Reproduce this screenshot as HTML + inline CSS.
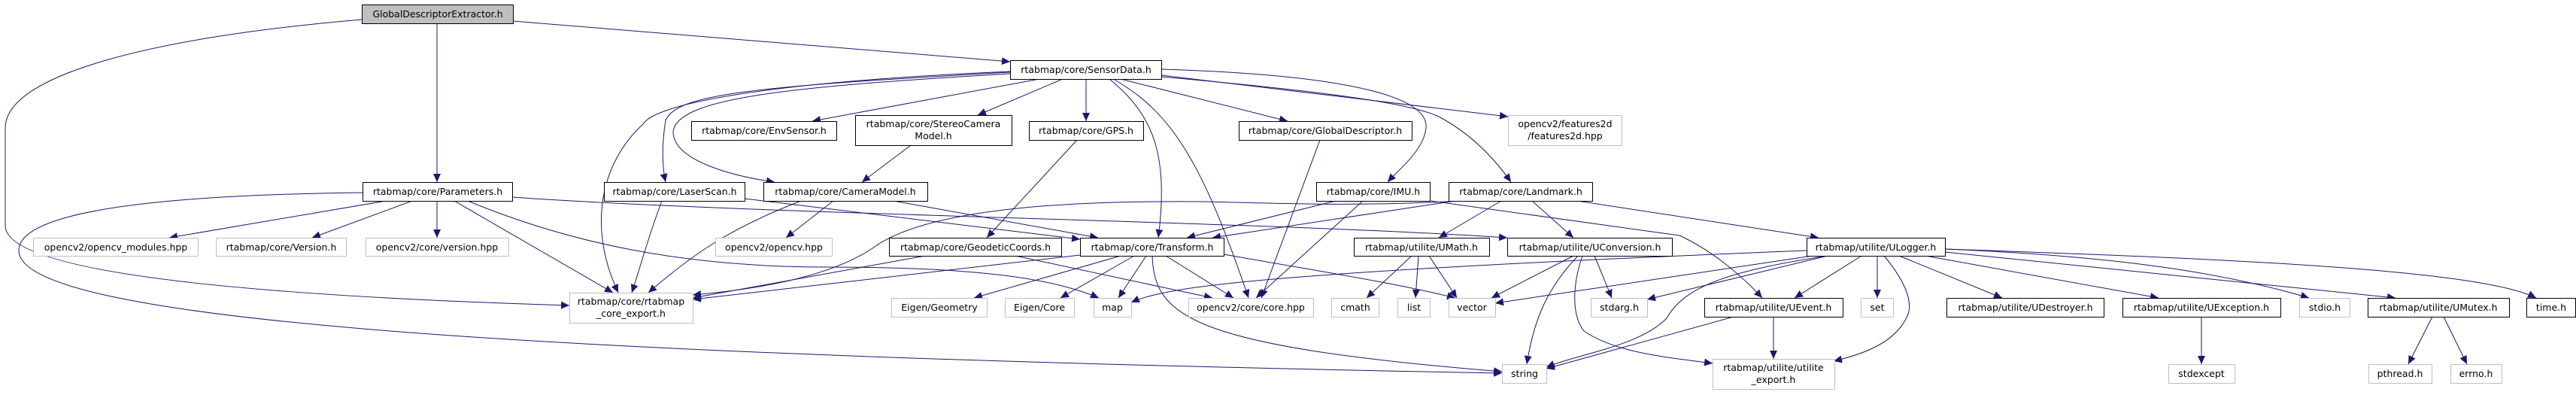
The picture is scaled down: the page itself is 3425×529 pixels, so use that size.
<!DOCTYPE html>
<html><head><meta charset="utf-8"><style>
html,body{margin:0;padding:0;background:#fff;}
svg{display:block}
text{font-family:"DejaVu Sans","Liberation Sans",sans-serif;font-size:12.5px;fill:#000;text-anchor:middle}
.b{fill:#fff;stroke:#000;stroke-width:1}
.g{fill:#fff;stroke:#bfbfbf;stroke-width:1}
.r{fill:#bfbfbf;stroke:#000;stroke-width:1}
path{fill:none;stroke:#191970;stroke-width:1;marker-end:url(#a)}
</style></head><body>
<svg width="3425" height="529" viewBox="0 0 3425 529" xmlns="http://www.w3.org/2000/svg">
<defs><marker id="a" markerUnits="userSpaceOnUse" markerWidth="12" markerHeight="10" refX="11" refY="5" orient="auto"><polygon points="0,0 11,5 0,10" fill="#191970"/></marker></defs>
<!-- edges -->
<path d="M581,31 L581,242"/>
<path d="M682,28 L1343,82"/>
<path d="M481,26 C200,50 7,100 7,170 L7,300 C7,360 300,392 757,406"/>
<path d="M482,256 C150,260 25,290 25,333 C25,420 600,470 1997,496"/>
<path d="M513,267 L225,316"/>
<path d="M548,267 L415,316"/>
<path d="M581,267 L581,316"/>
<path d="M604,267 L815,389"/>
<path d="M622,267 C750,320 900,355 1100,355 C1300,355 1400,370 1461,396"/>
<path d="M681,262 C1000,285 1700,295 2004,316"/>
<path d="M880,267 C860,320 850,360 840,389"/>
<path d="M990,264 L1436,318"/>
<path d="M1343,96 C1000,115 900,125 885,160 C880,190 880,220 885,242"/>
<path d="M1343,98 C1050,115 900,130 895,175 C895,215 980,235 1030,242"/>
<path d="M1343,95 C1000,110 870,140 855,165 C800,215 780,300 822,389"/>
<path d="M1382,105 L1080,161"/>
<path d="M1413,105 L1300,153"/>
<path d="M1444,105 L1444,161"/>
<path d="M1490,105 L1712,161"/>
<path d="M1475,105 C1530,150 1555,200 1540,316"/>
<path d="M1480,105 C1560,150 1600,220 1660,396"/>
<path d="M1544,100 L2005,155"/>
<path d="M1544,92 C1800,100 1900,130 1896,170 C1893,200 1860,225 1845,242"/>
<path d="M1544,102 C1800,125 1880,140 1913,155 C1960,180 1990,215 2009,242"/>
<path d="M1211,193 L1146,242"/>
<path d="M1432,186 L1312,316"/>
<path d="M1755,186 L1677,396"/>
<path d="M1065,267 C980,300 930,330 862,389"/>
<path d="M1108,267 L1045,316"/>
<path d="M1188,267 L1460,316"/>
<path d="M1230,340 L921,396"/>
<path d="M1350,340 L1612,396"/>
<path d="M1436,339 L921,398"/>
<path d="M1490,340 L1295,396"/>
<path d="M1508,340 L1410,396"/>
<path d="M1524,340 L1487,396"/>
<path d="M1550,340 L1640,396"/>
<path d="M1532,340 C1535,420 1580,460 1997,494"/>
<path d="M1627,338 C1750,360 1850,375 1935,396"/>
<path d="M1776,267 L1578,316"/>
<path d="M1935,267 L1612,316"/>
<path d="M1942,267 C1800,275 1700,270 1600,268 C1300,265 1200,300 1160,330 C1100,370 1000,385 921,392"/>
<path d="M1812,267 L1670,396"/>
<path d="M1902,267 L2233,313 C2270,330 2310,360 2343,396"/>
<path d="M1996,267 L1913,316"/>
<path d="M2037,267 L2092,316"/>
<path d="M2097,267 L2418,316"/>
<path d="M1877,340 L1817,396"/>
<path d="M1886,340 L1882,396"/>
<path d="M1900,340 L1937,396"/>
<path d="M2092,340 L1983,396"/>
<path d="M2098,340 C2060,380 2040,420 2030,484"/>
<path d="M2104,340 C2090,380 2090,420 2106,440 C2150,470 2220,475 2277,483"/>
<path d="M2120,340 L2143,396"/>
<path d="M2402,333 C2100,345 1800,360 1650,375 C1580,382 1530,390 1504,402"/>
<path d="M2410,340 L1988,403"/>
<path d="M2430,340 L2190,398"/>
<path d="M2430,340 C2300,360 2240,380 2216,423 C2180,460 2100,470 2056,488"/>
<path d="M2475,340 L2386,396"/>
<path d="M2496,340 L2496,396"/>
<path d="M2505,340 C2530,370 2545,400 2536,420 C2520,455 2480,470 2438,480"/>
<path d="M2525,340 L2662,396"/>
<path d="M2560,340 L2870,396"/>
<path d="M2586,331 C2800,340 2950,360 3070,396"/>
<path d="M2586,335 L3185,396"/>
<path d="M2586,331 C3000,345 3300,360 3372,396"/>
<path d="M2305,421 L2056,490"/>
<path d="M2358,421 L2358,477"/>
<path d="M2927,421 L2927,484"/>
<path d="M3234,421 L3202,484"/>
<path d="M3249,421 L3280,484"/>
<!-- nodes -->
<rect class="r" x="481.5" y="6.5" width="201" height="25"/><text x="582" y="23">GlobalDescriptorExtractor.h</text>
<rect class="b" x="482.5" y="242.5" width="199" height="25"/><text x="582" y="259">rtabmap/core/Parameters.h</text>
<rect class="g" x="44.5" y="316.5" width="219" height="24"/><text x="154" y="333">opencv2/opencv_modules.hpp</text>
<rect class="g" x="287.5" y="316.5" width="173" height="24"/><text x="374" y="333">rtabmap/core/Version.h</text>
<rect class="g" x="486.5" y="316.5" width="190" height="24"/><text x="581" y="333">opencv2/core/version.hpp</text>
<rect class="g" x="757.5" y="389.5" width="164" height="40"/><text x="839" y="405">rtabmap/core/rtabmap</text><text x="839" y="421">_core_export.h</text>
<rect class="b" x="803.5" y="242.5" width="187" height="25"/><text x="897" y="259">rtabmap/core/LaserScan.h</text>
<rect class="b" x="1343.5" y="80.5" width="201" height="25"/><text x="1444" y="97">rtabmap/core/SensorData.h</text>
<rect class="b" x="919.5" y="161.5" width="193" height="25"/><text x="1016" y="178">rtabmap/core/EnvSensor.h</text>
<rect class="b" x="1137.5" y="153.5" width="208" height="40"/><text x="1241" y="169">rtabmap/core/StereoCamera</text><text x="1241" y="185">Model.h</text>
<rect class="b" x="1368.5" y="161.5" width="152" height="25"/><text x="1444" y="178">rtabmap/core/GPS.h</text>
<rect class="b" x="1647.5" y="161.5" width="230" height="25"/><text x="1762" y="178">rtabmap/core/GlobalDescriptor.h</text>
<rect class="b" x="1015.5" y="242.5" width="218" height="25"/><text x="1124" y="259">rtabmap/core/CameraModel.h</text>
<rect class="g" x="951.5" y="316.5" width="155" height="24"/><text x="1029" y="333">opencv2/opencv.hpp</text>
<rect class="b" x="1182.5" y="316.5" width="229" height="24"/><text x="1297" y="333">rtabmap/core/GeodeticCoords.h</text>
<rect class="b" x="1436.5" y="316.5" width="191" height="24"/><text x="1532" y="333">rtabmap/core/Transform.h</text>
<rect class="g" x="1185.5" y="396.5" width="127" height="25"/><text x="1249" y="413">Eigen/Geometry</text>
<rect class="g" x="1336.5" y="396.5" width="92" height="25"/><text x="1382" y="413">Eigen/Core</text>
<rect class="g" x="1454.5" y="396.5" width="50" height="25"/><text x="1479" y="413">map</text>
<rect class="g" x="1580.5" y="396.5" width="166" height="25"/><text x="1663" y="413">opencv2/core/core.hpp</text>
<rect class="g" x="2005.5" y="153.5" width="151" height="40"/><text x="2081" y="169">opencv2/features2d</text><text x="2081" y="185">/features2d.hpp</text>
<rect class="b" x="1750.5" y="242.5" width="151" height="25"/><text x="1826" y="259">rtabmap/core/IMU.h</text>
<rect class="b" x="1926.5" y="242.5" width="191" height="25"/><text x="2022" y="259">rtabmap/core/Landmark.h</text>
<rect class="b" x="1800.5" y="316.5" width="180" height="24"/><text x="1890" y="333">rtabmap/utilite/UMath.h</text>
<rect class="b" x="2004.5" y="316.5" width="219" height="24"/><text x="2114" y="333">rtabmap/utilite/UConversion.h</text>
<rect class="b" x="2402.5" y="316.5" width="184" height="24"/><text x="2494" y="333">rtabmap/utilite/ULogger.h</text>
<rect class="g" x="1770.5" y="396.5" width="63" height="25"/><text x="1802" y="413">cmath</text>
<rect class="g" x="1858.5" y="396.5" width="43" height="25"/><text x="1880" y="413">list</text>
<rect class="g" x="1926.5" y="396.5" width="62" height="25"/><text x="1957" y="413">vector</text>
<rect class="g" x="2115.5" y="396.5" width="75" height="25"/><text x="2153" y="413">stdarg.h</text>
<rect class="b" x="2266.5" y="396.5" width="184" height="25"/><text x="2358" y="413">rtabmap/utilite/UEvent.h</text>
<rect class="g" x="2474.5" y="396.5" width="43" height="25"/><text x="2496" y="413">set</text>
<rect class="g" x="1997.5" y="484.5" width="59" height="25"/><text x="2027" y="501">string</text>
<rect class="g" x="2277.5" y="477.5" width="162" height="40"/><text x="2358" y="493">rtabmap/utilite/utilite</text><text x="2358" y="509">_export.h</text>
<rect class="b" x="2588.5" y="396.5" width="209" height="25"/><text x="2693" y="413">rtabmap/utilite/UDestroyer.h</text>
<rect class="b" x="2822.5" y="396.5" width="210" height="25"/><text x="2927" y="413">rtabmap/utilite/UException.h</text>
<rect class="g" x="3057.5" y="396.5" width="67" height="25"/><text x="3091" y="413">stdio.h</text>
<rect class="b" x="3148.5" y="396.5" width="188" height="25"/><text x="3242" y="413">rtabmap/utilite/UMutex.h</text>
<rect class="b" x="3359.5" y="396.5" width="65" height="25"/><text x="3392" y="413">time.h</text>
<rect class="g" x="2883.5" y="484.5" width="88" height="25"/><text x="2927" y="501">stdexcept</text>
<rect class="g" x="3149.5" y="484.5" width="84" height="25"/><text x="3191" y="501">pthread.h</text>
<rect class="g" x="3258.5" y="484.5" width="68" height="25"/><text x="3292" y="501">errno.h</text>
</svg>
</body></html>
